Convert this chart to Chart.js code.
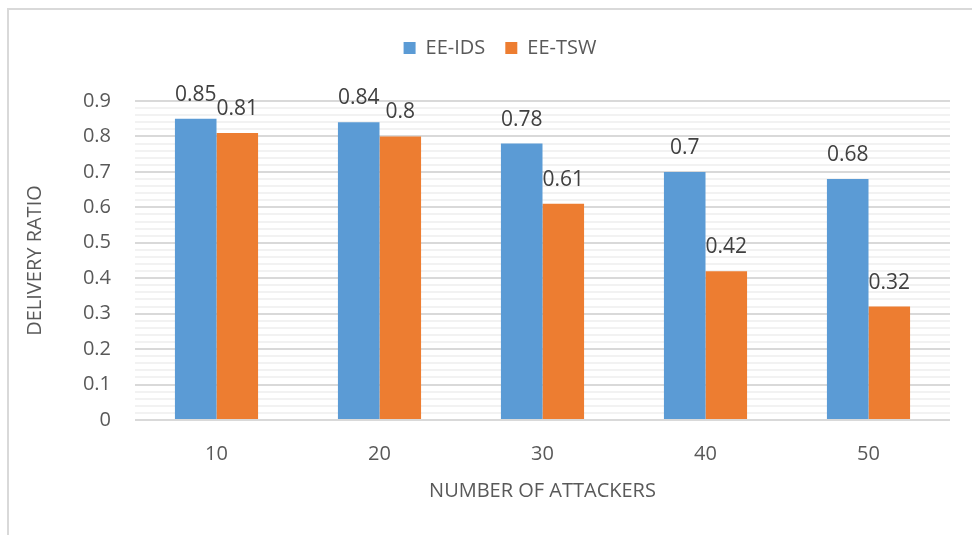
<!DOCTYPE html>
<html>
<head>
<meta charset="utf-8">
<script src="https://cdn.jsdelivr.net/npm/chart.js@4.4.1/dist/chart.umd.min.js"></script>
<style>
  html, body { margin: 0; padding: 0; background: #ffffff; }
  #wrap { position: relative; width: 972px; height: 535px; }
</style>
</head>
<body>
<div id="wrap"><canvas id="chart" width="972" height="535"></canvas></div>
<script>
// Attacker counts on the x axis
const categories = ['10', '20', '30', '40', '50'];
// Delivery ratio per scheme
const eeIds = [0.85, 0.84, 0.78, 0.70, 0.68];
const eeTsw = [0.81, 0.80, 0.61, 0.42, 0.32];
const seriesNames = ['EE-IDS', 'EE-TSW'];

const FONT = "'Open Sans', 'Liberation Sans', sans-serif";
const TEXT = '#595959';

function isMajor(v) {
  return Math.abs(v * 10 - Math.round(v * 10)) < 1e-6;
}

// White page with a light frame on the top and left edges
const framePlugin = {
  id: 'frame',
  beforeDraw(chart) {
    const c = chart.ctx;
    c.save();
    c.fillStyle = '#ffffff';
    c.fillRect(0, 0, chart.width, chart.height);
    c.strokeStyle = '#D9D9D9';
    c.lineWidth = 2;
    c.beginPath();
    c.moveTo(8, chart.height);
    c.lineTo(8, 9);
    c.lineTo(chart.width, 9);
    c.stroke();
    c.restore();
  }
};

// Extra room under the legend, and a small nudge to the right
const legendSpacing = {
  id: 'legendSpacing',
  beforeInit(chart) {
    const legend = chart.legend;
    const fit = legend.fit;
    legend.fit = function () {
      fit.call(this);
      this.height += 33;
    };
  },
  afterLayout(chart) {
    chart.legend.left += 15;
    chart.legend.right += 15;
  }
};

// Value labels above each bar
const valueLabels = {
  id: 'valueLabels',
  afterDatasetsDraw(chart) {
    const c = chart.ctx;
    c.save();
    c.font = '21px ' + FONT;
    c.fillStyle = '#404040';
    c.textAlign = 'center';
    c.textBaseline = 'alphabetic';
    chart.data.datasets.forEach((ds, i) => {
      chart.getDatasetMeta(i).data.forEach((bar, j) => {
        c.fillText(String(ds.data[j]), bar.x, bar.y - 18);
      });
    });
    c.restore();
  }
};

new Chart(document.getElementById('chart'), {
  type: 'bar',
  data: {
    labels: categories,
    datasets: [
      { label: seriesNames[0], data: eeIds, backgroundColor: '#5B9BD5' },
      { label: seriesNames[1], data: eeTsw, backgroundColor: '#ED7D31' }
    ]
  },
  options: {
    responsive: false,
    animation: false,
    layout: { padding: { left: 20, right: 22, top: 18, bottom: 32 } },
    datasets: { bar: { categoryPercentage: 0.51, barPercentage: 1.0 } },
    plugins: {
      legend: {
        position: 'top',
        labels: {
          boxWidth: 12, boxHeight: 12, padding: 20,
          color: TEXT,
          font: { family: FONT, size: 20 }
        }
      },
      tooltip: { enabled: false }
    },
    scales: {
      x: {
        grid: { display: false },
        border: { display: false },
        ticks: { color: TEXT, font: { family: FONT, size: 20 }, padding: 14 },
        title: {
          display: true, text: 'NUMBER OF ATTACKERS', color: TEXT,
          font: { family: FONT, size: 20 }, padding: { top: 8, bottom: 0 }
        },
        afterFit(scale) { scale.height = 83; }
      },
      y: {
        min: 0, max: 0.9,
        ticks: {
          stepSize: 0.02,
          autoSkip: false,
          color: TEXT,
          font: { family: FONT, size: 20 },
          padding: 24,
          callback(v) { return isMajor(v) ? String(Math.round(v * 10) / 10) : ''; }
        },
        grid: {
          drawTicks: false,
          lineWidth: 2,
          color(ctx) { return isMajor(ctx.tick.value) ? '#D9D9D9' : '#F2F2F2'; }
        },
        border: { display: false },
        title: {
          display: true, text: 'DELIVERY RATIO', color: TEXT,
          font: { family: FONT, size: 20 }, padding: { top: 3, bottom: 0 }
        },
        afterFit(scale) { scale.width = 115; }
      }
    }
  },
  plugins: [framePlugin, legendSpacing, valueLabels]
});
</script>
</body>
</html>
